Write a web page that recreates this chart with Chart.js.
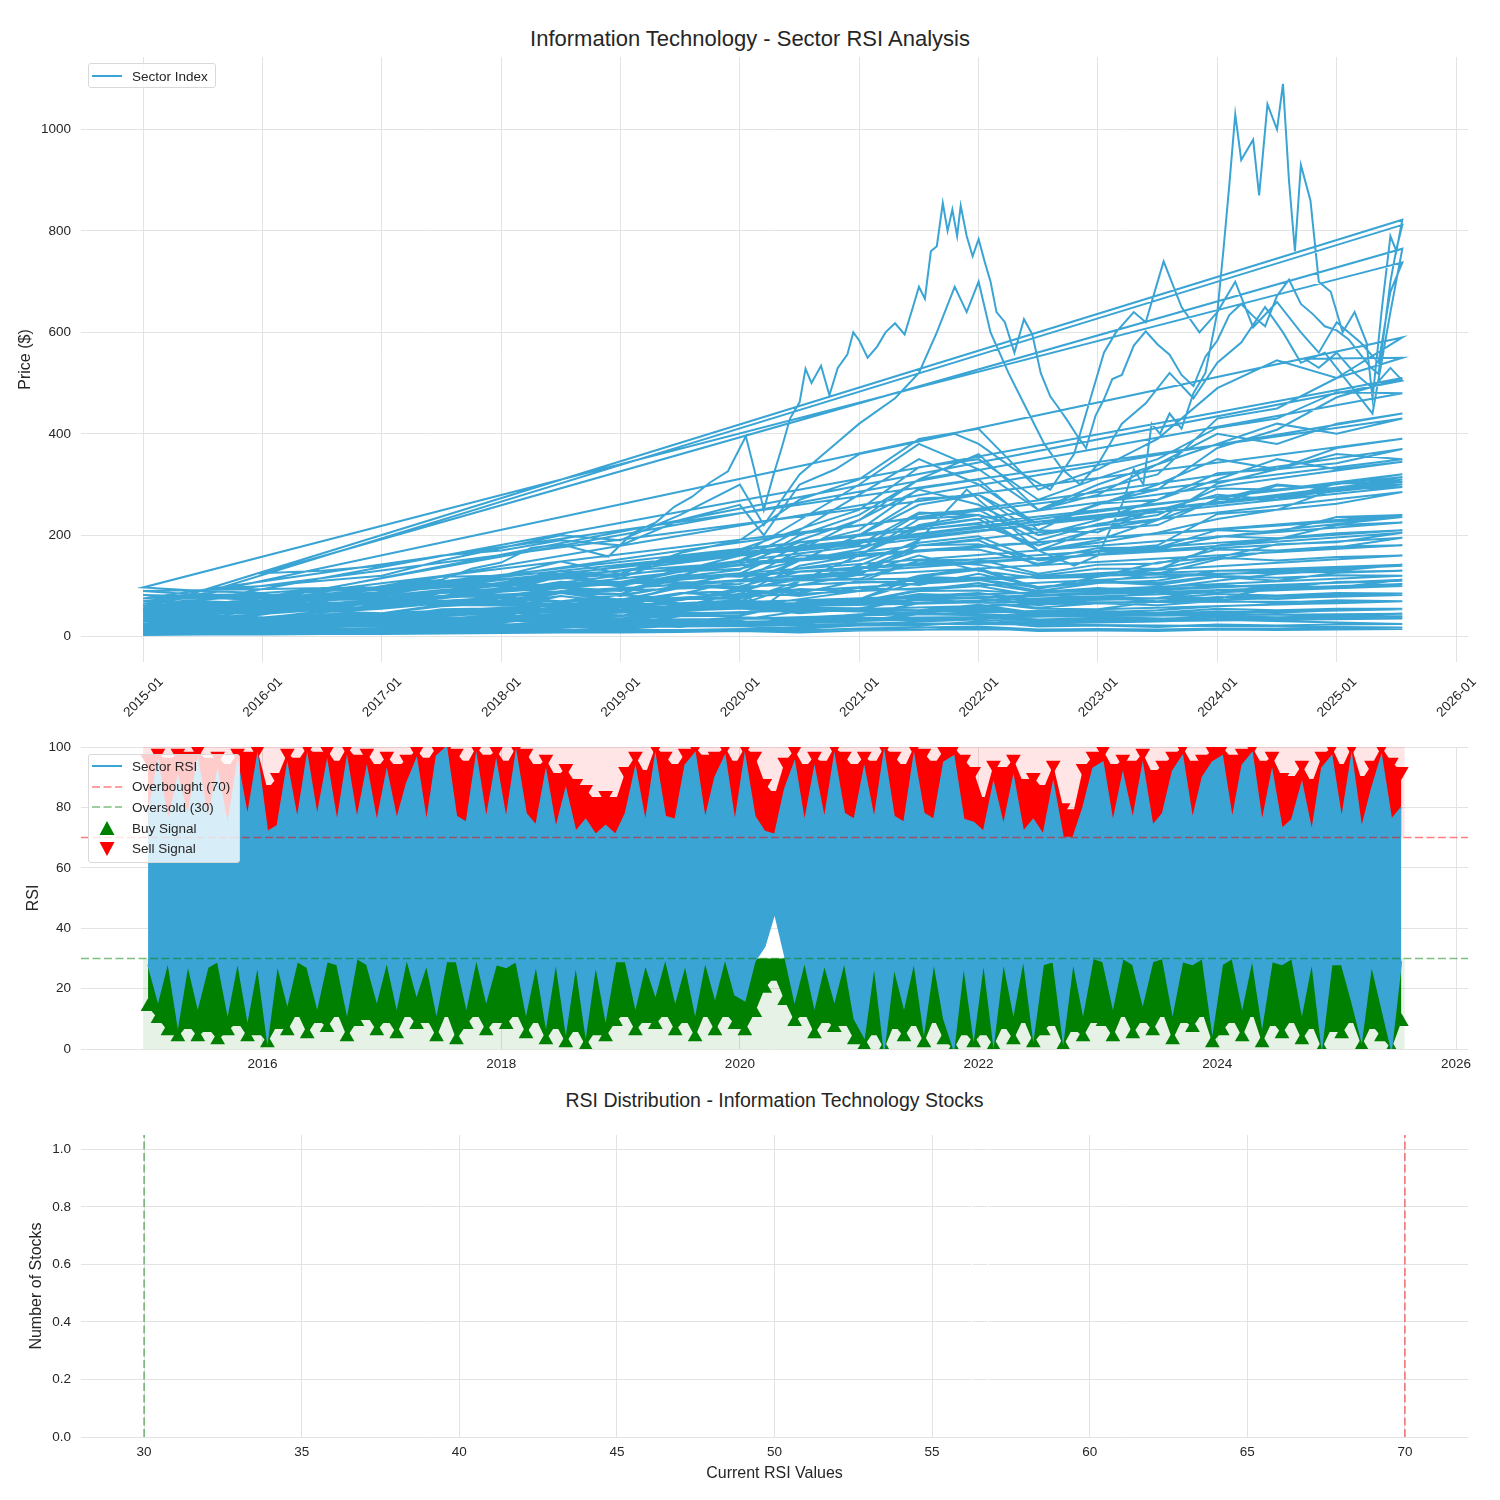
<!DOCTYPE html>
<html>
<head>
<meta charset="utf-8">
<script src="https://cdn.jsdelivr.net/npm/chart.js@4.4.1/dist/chart.umd.min.js"></script>
<style>
  html, body { margin: 0; padding: 0; background: #fff; }
  body { width: 1500px; height: 1500px; position: relative; overflow: hidden;
         font-family: "Liberation Sans", Arial, sans-serif; color: #262626; }
  canvas { position: absolute; left: 0; }
  .title { position: absolute; text-align: center; white-space: nowrap; }
  .legend { position: absolute; box-sizing: border-box; border: 1px solid #d9d9d9; border-radius: 3px;
            background: rgba(255,255,255,0.8); font-size: 13.5px; padding: 1px 0 0 3px; }
  .legend .row { display: flex; align-items: center; height: 20.6px; white-space: nowrap; }
  .legend svg { width: 30px; height: 20px; margin-right: 10px; flex: none; }
</style>
</head>
<body>
<div class="title" style="left:0;width:1500px;top:28px;font-size:22px;line-height:22px;">Information Technology - Sector RSI Analysis</div>
<canvas id="priceChart" width="1500" height="675" style="top:57px"></canvas>
<canvas id="rsiChart" width="1500" height="342" style="top:737px"></canvas>
<div class="title" style="left:81px;width:1387px;top:1090px;font-size:19.5px;line-height:20px;">RSI Distribution - Information Technology Stocks</div>
<canvas id="histChart" width="1500" height="362" style="top:1125px"></canvas>

<div class="legend" style="left:88px;top:63px;width:128px;height:25px;">
  <div class="row" style="height:22px"><svg><line x1="0" y1="10" x2="30" y2="10" stroke="#3aa4d4" stroke-width="2"/></svg>Sector Index</div>
</div>
<div class="legend" style="left:88px;top:754px;width:152px;height:109px;">
  <div class="row"><svg><line x1="0" y1="10" x2="30" y2="10" stroke="#3aa4d4" stroke-width="2"/></svg>Sector RSI</div>
  <div class="row"><svg><line x1="0" y1="10" x2="30" y2="10" stroke="rgba(255,0,0,0.5)" stroke-width="1.5" stroke-dasharray="8 3.5"/></svg>Overbought (70)</div>
  <div class="row"><svg><line x1="0" y1="10" x2="30" y2="10" stroke="rgba(0,128,0,0.5)" stroke-width="1.5" stroke-dasharray="8 3.5"/></svg>Oversold (30)</div>
  <div class="row"><svg><polygon points="15,3 7.5,17 22.5,17" fill="#008000"/></svg>Buy Signal</div>
  <div class="row"><svg><polygon points="7.5,3 22.5,3 15,17" fill="#ff0000"/></svg>Sell Signal</div>
</div>

<script>
const LINE_BLUE = '#3aa4d4';
const GRID = '#e3e3e3';
const TEXT = '#262626';

Chart.defaults.font.family = '"Liberation Sans", Arial, sans-serif';
Chart.defaults.font.size = 13.5;
Chart.defaults.color = TEXT;

// ---- top panel: every stock's price stacked into one series ----
const halfYears = [2015.0, 2015.5, 2016.0, 2016.5, 2017.0, 2017.5, 2018.0, 2018.5, 2019.0, 2019.5, 2020.0,
                   2020.5, 2021.0, 2021.5, 2022.0, 2022.5, 2023.0, 2023.5, 2024.0, 2024.5, 2025.0, 2025.55];
const priceYearTicks = [2015, 2016, 2017, 2018, 2019, 2020, 2021, 2022, 2023, 2024, 2025, 2026];
const priceTicks = [0, 200, 400, 600, 800, 1000];

// big movers, as (decimal year, price)
const stockC = [[2015.0,18],[2015.5,22],[2016.0,20],[2016.5,28],[2017.0,35],[2017.5,42],[2018.0,55],[2018.5,62],
  [2019.0,48],[2019.5,60],[2020.0,85],[2020.2,60],[2020.5,110],[2021.0,140],[2021.5,190],[2021.9,290],[2022.2,230],
  [2022.5,170],[2022.8,140],[2023.0,160],[2023.1,210],[2023.2,260],[2023.3,330],[2023.38,300],[2023.45,420],
  [2023.52,400],[2023.6,440],[2023.7,410],[2023.8,480],[2023.9,520],[2024.0,640],
  [2024.05,760],[2024.1,890],[2024.15,1030],[2024.2,940],[2024.3,980],[2024.35,870],[2024.42,1050],[2024.5,1000],
  [2024.55,1090],[2024.6,900],[2024.65,760],[2024.7,930],[2024.78,860],[2024.85,700],[2024.95,680],[2025.05,600],
  [2025.15,640],[2025.25,580],[2025.3,470],[2025.38,650],[2025.45,790],[2025.5,760],[2025.55,822]];
const stockA = [[2015.0,55],[2015.25,61],[2015.5,56],[2015.75,66],[2016.0,58],[2016.25,70],[2016.5,72],[2016.75,84],
  [2017.0,88],[2017.25,106],[2017.5,112],[2017.75,134],[2018.0,146],[2018.25,175],[2018.5,182],[2018.7,170],
  [2018.9,158],[2019.1,204],[2019.3,226],[2019.45,256],[2019.6,276],[2019.75,304],[2019.9,326],[2020.05,395],
  [2020.12,330],[2020.2,250],[2020.28,318],[2020.35,372],[2020.42,430],[2020.5,462],[2020.55,528],[2020.6,500],
  [2020.68,534],[2020.75,476],[2020.82,530],[2020.9,556],[2020.95,600],[2021.0,584],[2021.07,550],[2021.15,572],
  [2021.22,600],[2021.3,618],[2021.38,596],[2021.45,650],[2021.5,690],[2021.55,666],[2021.6,760],[2021.65,770],
  [2021.7,855],[2021.74,800],[2021.78,842],[2021.82,790],[2021.85,850],[2021.9,790],[2021.95,750],[2022.0,784],
  [2022.05,740],[2022.1,700],[2022.15,640],[2022.22,620],[2022.3,560],[2022.38,626],[2022.45,596],[2022.52,520],
  [2022.6,474],[2022.68,448],[2022.75,424],[2022.82,398],[2022.9,372],[2022.98,436],[2023.05,468],[2023.12,508],
  [2023.2,516],[2023.3,574],[2023.4,602],[2023.5,576],[2023.6,556],[2023.7,516],[2023.8,494],[2023.9,552],
  [2024.0,584],[2024.1,634],[2024.2,656],[2024.3,632],[2024.4,612],[2024.5,672],[2024.6,704],[2024.7,656],
  [2024.8,636],[2024.9,612],[2025.0,604],[2025.1,586],[2025.2,556],[2025.28,532],[2025.35,518],[2025.4,606],
  [2025.45,700],[2025.5,764],[2025.55,812]];
const stockB = [[2015.63,95],[2016.0,100],[2016.5,110],[2017.0,120],[2017.5,150],[2018.0,175],[2018.5,200],[2019.0,190],
  [2019.5,240],[2020.0,300],[2020.2,220],[2020.5,320],[2020.8,380],[2021.0,420],[2021.3,470],[2021.5,520],
  [2021.65,600],[2021.8,690],[2021.9,640],[2022.0,700],[2022.1,600],[2022.25,520],[2022.4,450],[2022.55,380],
  [2022.7,330],[2022.85,300],[2023.0,340],[2023.2,420],[2023.4,460],[2023.6,520],[2023.8,470],[2024.0,540],
  [2024.2,580],[2024.4,650],[2024.55,600],[2024.7,540],[2024.9,560],[2025.1,500],[2025.3,440],[2025.45,640],
  [2025.55,765]];
const stockD = [[2016.0,125],[2016.5,130],[2017.0,140],[2017.5,160],[2018.0,170],[2018.5,190],[2019.0,180],[2019.5,230],
  [2020.0,260],[2020.2,200],[2020.5,300],[2020.8,330],[2021.0,360],[2021.4,380],[2021.8,400],[2022.0,380],
  [2022.3,330],[2022.6,290],[2022.8,360],[2022.95,480],[2023.05,560],[2023.15,600],[2023.3,640],[2023.4,620],
  [2023.5,700],[2023.55,740],[2023.7,650],[2023.85,600],[2024.0,640],[2024.15,700],[2024.3,610],[2024.5,660],
  [2024.7,600],[2024.85,560],[2025.0,620],[2025.2,580],[2025.35,540],[2025.45,680],[2025.55,738]];
const stockLate = [[2024.73,548],[2024.85,530],[2025.0,560],[2025.15,520],[2025.3,490],[2025.45,530],[2025.55,505]];

// the rest, on the half-year dates
const m01 = [40, 48, 44, 58, 66, 80, 96, 118, 124, 165, 190, 270, 310, 390, 410, 290, 330, 390, 490, 545, 510, 590];
const m02 = [30, 36, 32, 44, 46, 60, 66, 90, 84, 118, 132, 200, 240, 310, 330, 250, 290, 320, 430, 450, 510, 550];
const m03 = [25, 31, 27, 38, 37, 54, 56, 80, 66, 102, 124, 180, 210, 292, 310, 210, 262, 290, 372, 408, 472, 510];
const m04 = [60, 70, 66, 80, 82, 100, 106, 130, 116, 158, 172, 212, 250, 334, 350, 270, 312, 350, 412, 430, 482, 480];
const m05 = [20, 25, 22, 33, 32, 46, 46, 66, 50, 76, 84, 140, 160, 232, 240, 170, 212, 230, 302, 330, 372, 390];
const m06 = [50, 57, 52, 68, 66, 86, 90, 118, 98, 134, 142, 186, 200, 272, 280, 220, 262, 270, 322, 330, 342, 370];
const m07 = [35, 42, 37, 50, 46, 63, 64, 86, 70, 97, 104, 150, 172, 242, 250, 190, 222, 240, 292, 290, 302, 320];
const m08 = [70, 77, 72, 86, 84, 102, 100, 122, 104, 128, 134, 160, 162, 212, 222, 180, 212, 220, 272, 270, 302, 305];
const m09 = [15, 19, 16, 26, 25, 38, 37, 53, 41, 60, 64, 102, 122, 180, 190, 140, 170, 180, 242, 250, 292, 300];
const m10 = [45, 51, 47, 60, 57, 71, 70, 88, 73, 96, 99, 128, 132, 180, 182, 152, 175, 176, 210, 206, 236, 240];
const m11 = [10, 13, 11, 17, 15, 23, 22, 34, 25, 40, 41, 66, 74, 118, 132, 94, 118, 132, 180, 192, 220, 225];
const m12 = [97, 90, 86, 94, 92, 104, 104, 120, 100, 122, 118, 128, 132, 170, 172, 144, 168, 172, 198, 194, 204, 210];
const m13 = [28, 33, 30, 40, 39, 53, 52, 67, 54, 74, 75, 102, 108, 150, 152, 124, 142, 144, 172, 170, 178, 180];
const m14 = [65, 60, 57, 68, 66, 80, 78, 96, 80, 101, 94, 112, 114, 150, 142, 120, 134, 134, 156, 150, 157, 160];
const m15 = [12, 15, 13, 21, 20, 29, 29, 42, 32, 47, 46, 68, 74, 108, 112, 90, 106, 110, 130, 130, 137, 140];
const m16 = [55, 58, 50, 59, 57, 68, 66, 80, 68, 86, 80, 94, 90, 118, 114, 96, 110, 106, 120, 116, 121, 120];
const m17 = [8, 10, 9, 14, 13, 20, 20, 29, 22, 34, 33, 50, 54, 76, 76, 62, 74, 76, 92, 92, 96, 100];
const m18 = [40, 42, 36, 43, 41, 49, 47, 59, 49, 62, 57, 67, 66, 84, 80, 69, 78, 75, 84, 81, 86, 85];
const m19 = [22, 25, 22, 28, 27, 35, 34, 43, 36, 48, 45, 57, 56, 73, 68, 57, 66, 62, 71, 67, 72, 70];
const m20 = [90, 82, 84, 72, 76, 66, 71, 62, 65, 56, 58, 46, 55, 52, 63, 46, 51, 47, 55, 52, 55, 55];
const m21 = [6, 8, 7, 10, 10, 14, 14, 20, 16, 22, 22, 31, 32, 44, 42, 34, 37, 35, 40, 38, 40, 40];
const m22 = [30, 26, 28, 24, 27, 22, 25, 21, 23, 20, 21, 16, 22, 22, 30, 20, 22, 19, 24, 22, 24, 25];
const m23 = [18, 16, 17, 14, 16, 13, 15, 12, 14, 11, 11, 8, 12, 13, 17, 11, 12, 11, 14, 13, 14, 15];
const m24 = [48, 54, 44, 56, 55, 66, 67, 70, 69, 86, 90, 118, 125, 160, 130, 115, 118, 146, 156, 182, 186, 205];
const m25 = [5, 7, 5, 8, 8, 12, 13, 19, 15, 22, 24, 38, 43, 66, 68, 55, 54, 70, 75, 97, 97, 112];
const m26 = [75, 84, 78, 96, 96, 118, 120, 148, 124, 160, 162, 170, 182, 245, 240, 210, 206, 252, 262, 298, 292, 315];
const m27 = [33, 37, 33, 41, 38, 47, 46, 56, 47, 59, 57, 66, 69, 90, 91, 84, 75, 88, 87, 101, 97, 104];
const m28 = [12, 10, 14, 11, 16, 13, 19, 17, 22, 19, 27, 24, 36, 33, 40, 30, 34, 31, 38, 34, 42, 45];
const m29 = [62, 56, 64, 58, 70, 63, 76, 70, 82, 74, 92, 86, 110, 102, 124, 98, 108, 102, 118, 110, 126, 130];
const m30 = [3, 4, 4, 5, 5, 6, 7, 8, 8, 9, 11, 12, 16, 18, 20, 14, 15, 14, 16, 15, 17, 18];
const m31 = [24, 28, 25, 30, 33, 38, 36, 44, 40, 52, 58, 74, 90, 120, 135, 96, 108, 124, 152, 170, 176, 195];
const m32 = [82, 76, 80, 72, 78, 70, 76, 68, 74, 66, 72, 64, 74, 80, 86, 72, 76, 70, 78, 74, 80, 82];
const m33 = [15, 18, 17, 21, 23, 27, 30, 36, 33, 42, 46, 60, 70, 92, 100, 80, 86, 96, 110, 124, 130, 142];
const m34 = [38, 34, 36, 32, 35, 31, 34, 30, 32, 29, 30, 26, 31, 34, 38, 30, 32, 30, 34, 32, 35, 36];
const m35 = [52, 60, 56, 68, 66, 78, 80, 96, 90, 112, 122, 150, 172, 215, 232, 170, 185, 205, 232, 250, 262, 285];
const m36 = [9, 11, 10, 13, 14, 17, 17, 21, 20, 25, 27, 34, 40, 52, 58, 46, 48, 52, 60, 64, 66, 70];
const m37 = [70, 66, 72, 64, 74, 68, 78, 70, 82, 72, 90, 80, 96, 92, 106, 88, 96, 90, 102, 96, 108, 110];
const m38 = [26, 24, 27, 25, 29, 27, 32, 29, 34, 31, 38, 35, 44, 48, 54, 42, 46, 44, 50, 47, 52, 54];
const m39 = [44, 50, 47, 56, 58, 68, 72, 86, 82, 100, 110, 135, 150, 185, 198, 150, 162, 175, 196, 210, 222, 236];
const m40 = [4, 5, 5, 6, 7, 8, 9, 11, 11, 13, 15, 19, 24, 30, 34, 26, 28, 30, 34, 36, 38, 40];
const m41 = [20, 24, 22, 30, 34, 44, 50, 66, 60, 84, 110, 170, 230, 310, 360, 250, 280, 340, 380, 420, 400, 430];
const m42 = [35, 40, 38, 48, 55, 68, 78, 98, 90, 120, 150, 210, 280, 350, 300, 220, 260, 300, 350, 330, 360, 350];
const m43 = [15, 18, 17, 24, 28, 36, 42, 56, 52, 72, 95, 150, 200, 260, 280, 200, 230, 270, 310, 350, 330, 345];
const m44 = [45, 50, 48, 60, 66, 80, 90, 108, 100, 130, 160, 230, 300, 380, 330, 250, 300, 340, 400, 380, 420, 440];
const m45 = [8, 10, 10, 14, 18, 24, 28, 38, 36, 50, 70, 110, 160, 220, 240, 170, 190, 230, 270, 300, 290, 310];
const m46 = [60, 66, 62, 74, 80, 92, 100, 116, 108, 130, 150, 190, 230, 290, 260, 200, 220, 250, 280, 270, 290, 295];

// order in which the stocks follow each other in the series
const stockOrder = [stockC, stockA, stockB, stockD, m12, m01, m04, m02, stockLate, m03, m06, m05, m08, m07, m09,
  m44, m41, m26, m10, m35, m11, m42, m24, m13, m39, m14, m43, m15, m31, m16, m45, m25, m17, m33, m46, m18, m27,
  m19, m29, m20, m21, m37, m22, m32, m23, m28, m38, m30, m34, m36, m40];

const pricePoints = [];
stockOrder.forEach(stock => {
  stock.forEach((p, i) => {
    if (Array.isArray(p)) pricePoints.push({ x: p[0], y: p[1] });
    else pricePoints.push({ x: halfYears[i], y: p });
  });
});

// ---- middle panel: monthly RSI envelope and signal extremes ----
const rsiHigh = [
  78, 95, 75, 90, 77, 96, 76, 92, 74, 95, 77, 97,
  72, 74, 94, 76, 97, 77, 95, 75, 96, 76, 93, 75,
  92, 76, 88, 96, 75, 97, 100, 77, 75, 97, 76, 95,
  76, 98, 78, 74, 92, 73, 86, 72, 76, 71, 74, 71,
  78, 93, 75, 97, 77, 76, 94, 98, 76, 90, 97, 75,
  97, 77, 72, 71, 86, 95, 75, 93, 76, 97, 78, 76,
  93, 76, 98, 77, 75, 97, 78, 76, 95, 97, 76, 75,
  72, 88, 74, 90, 72, 76, 71, 88, 70, 70, 80, 93,
  95, 75, 91, 76, 94, 74, 78, 92, 97, 76, 90, 95,
  97, 76, 94, 98, 75, 92, 73, 76, 88, 72, 93, 97,
  76, 97, 73, 86, 97, 76, 80];
const rsiLow = [
  28, 16, 29, 8, 28, 14, 27, 29, 12, 29, 10, 28,
  3, 28, 15, 29, 27, 14, 29, 28, 12, 30, 28, 16,
  29, 14, 30, 18, 28, 12, 29, 29, 14, 30, 16, 28,
  27, 29, 12, 28, 8, 29, 6, 28, 5, 28, 10, 29,
  29, 14, 28, 18, 30, 16, 28, 12, 29, 17, 30, 18,
  16, 29, 34, 45, 31, 16, 29, 14, 28, 16, 29, 10,
  4, 28, 0, 27, 14, 29, 6, 29, 10, 0, 28, 4,
  29, 2, 29, 12, 30, 4, 28, 29, 3, 29, 12, 30,
  29, 14, 30, 28, 15, 29, 30, 12, 29, 28, 30, 6,
  28, 30, 14, 30, 8, 29, 28, 30, 12, 29, 1, 28,
  28, 16, 3, 28, 14, 0, 29];
const sellTop = [
  96, 98, 95, 98, 97, 99, 95, 97, 93, 98, 97, 99,
  86, 90, 98, 95, 100, 97, 99, 94, 100, 96, 98, 93,
  97, 93, 96, 99, 95, 100, 100, 98, 94, 100, 96, 99,
  94, 100, 98, 93, 96, 90, 93, 88, 86, 82, 84, 82,
  92, 97, 91, 100, 97, 93, 98, 100, 96, 97, 100, 94,
  100, 97, 88, 84, 95, 99, 93, 97, 94, 100, 97, 93,
  97, 94, 100, 97, 93, 100, 98, 94, 99, 100, 96, 92,
  82, 94, 92, 96, 88, 90, 86, 94, 80, 78, 93, 97,
  99, 93, 96, 94, 98, 91, 94, 97, 100, 94, 96, 99,
  100, 96, 98, 100, 94, 97, 90, 89, 94, 88, 97, 100,
  93, 100, 89, 94, 100, 95, 92];
const buyLow = [
  14, 10, 6, 4, 8, 4, 7, 3, 6, 9, 4, 6,
  2, 8, 6, 12, 5, 10, 7, 12, 4, 9, 11, 6,
  10, 5, 12, 8, 10, 4, 12, 3, 8, 12, 6, 10,
  8, 12, 5, 10, 3, 8, 2, 7, 1, 6, 4, 9,
  12, 6, 10, 8, 12, 6, 10, 4, 12, 6, 12, 8,
  6, 12, 20, 24, 16, 9, 12, 5, 10, 7, 9, 3,
  1, 6, 0, 8, 4, 9, 2, 10, 3, 0, 6, 2,
  6, 1, 8, 3, 10, 2, 6, 9, 1, 7, 4, 10,
  9, 4, 12, 5, 10, 6, 12, 3, 10, 7, 12, 2,
  6, 10, 4, 12, 2, 9, 5, 10, 3, 8, 0, 7,
  5, 10, 1, 8, 4, 0, 9];
const rsiYearTicks = [2016, 2018, 2020, 2022, 2024, 2026];
const rsiTicks = [0, 20, 40, 60, 80, 100];
const overbought = 70;
const oversold = 30;
const zoneSpan = [2015.0, 2025.57];

// month mid-points Jan 2015 .. Jul 2025 (time axis)
const rsiMonths = [];
for (let y = 2015; y <= 2025; y++) {
  for (let m = 0; m < 12; m++) {
    if (y === 2025 && m > 6) break;
    rsiMonths.push(y + (m + 0.5) / 12);
  }
}
const toPts = arr => arr.map((v, i) => ({ x: rsiMonths[i], y: v }));

// ---- bottom panel: histogram of current RSI ----
const histEdges = [56.27, 56.78];
const histCounts = [1];
const histXTicks = [30, 35, 40, 45, 50, 55, 60, 65, 70];
const histYTicks = [0, 0.2, 0.4, 0.6, 0.8, 1.0];

const X_MIN = 2014.48, X_MAX = 2026.1;

function yAxisFit(s) { s.width = 81; s.paddingTop = 0; s.paddingBottom = 0; }

const baseGrid = { color: GRID, drawTicks: false, lineWidth: 1 };

new Chart(document.getElementById('priceChart'), {
  type: 'line',
  data: {
    datasets: [{
      data: pricePoints,
      borderColor: LINE_BLUE,
      borderWidth: 2,
      pointRadius: 0,
      tension: 0,
      fill: false
    }]
  },
  options: {
    responsive: false,
    animation: false,
    layout: { padding: { left: 0, right: 32, top: 0, bottom: 0 } },
    plugins: { legend: { display: false }, tooltip: { enabled: false } },
    scales: {
      x: {
        type: 'linear', min: X_MIN, max: X_MAX,
        afterBuildTicks: s => { s.ticks = priceYearTicks.map(v => ({ value: v })); },
        afterFit: s => { s.height = 70; s.paddingLeft = 0; s.paddingRight = 0; },
        grid: baseGrid,
        border: { display: false },
        ticks: { callback: v => v + '-01', minRotation: 45, maxRotation: 45, autoSkip: false, padding: 12, labelOffset: 18 }
      },
      y: {
        min: -50, max: 1143,
        afterBuildTicks: s => { s.ticks = priceTicks.map(v => ({ value: v })); },
        afterFit: yAxisFit,
        grid: baseGrid,
        border: { display: false },
        ticks: { padding: 10, callback: v => String(v) },
        title: { display: true, text: 'Price ($)', font: { size: 16 }, padding: { top: 16, bottom: 0 } }
      }
    }
  }
});

const flat = (x0, x1, y) => [{ x: x0, y: y }, { x: x1, y: y }];

new Chart(document.getElementById('rsiChart'), {
  type: 'line',
  data: {
    datasets: [
      { data: flat(X_MIN, X_MAX, overbought), borderColor: 'rgba(255,0,0,0.5)', borderWidth: 1.5, borderDash: [8, 3.5], pointRadius: 0, fill: false },
      { data: flat(X_MIN, X_MAX, oversold), borderColor: 'rgba(0,128,0,0.5)', borderWidth: 1.5, borderDash: [8, 3.5], pointRadius: 0, fill: false },
      { data: toPts(rsiHigh), borderColor: LINE_BLUE, backgroundColor: LINE_BLUE, borderWidth: 1.5, pointRadius: 0, fill: '+1' },
      { data: toPts(rsiLow), borderColor: LINE_BLUE, borderWidth: 1.5, pointRadius: 0, fill: false },
      { data: toPts(buyLow), borderWidth: 0, borderColor: 'rgba(0,0,0,0)', backgroundColor: '#008000', fill: { value: oversold },
        pointStyle: 'triangle', pointRadius: 8.5, pointBackgroundColor: '#008000', pointBorderWidth: 0 },
      { data: toPts(sellTop), borderWidth: 0, borderColor: 'rgba(0,0,0,0)', backgroundColor: '#ff0000', fill: { value: overbought },
        pointStyle: 'triangle', pointRotation: 180, pointRadius: 8.5, pointBackgroundColor: '#ff0000', pointBorderWidth: 0 },
      { data: flat(zoneSpan[0], zoneSpan[1], 100), borderWidth: 0, borderColor: 'rgba(0,0,0,0)', backgroundColor: 'rgba(255,0,0,0.1)', pointRadius: 0, fill: { value: overbought } },
      { data: flat(zoneSpan[0], zoneSpan[1], oversold), borderWidth: 0, borderColor: 'rgba(0,0,0,0)', backgroundColor: 'rgba(0,128,0,0.1)', pointRadius: 0, fill: { value: 0 } }
    ]
  },
  options: {
    responsive: false,
    animation: false,
    layout: { padding: { left: 0, right: 32, top: 10, bottom: 0 } },
    plugins: { legend: { display: false }, tooltip: { enabled: false } },
    scales: {
      x: {
        type: 'linear', min: X_MIN, max: X_MAX,
        afterBuildTicks: s => { s.ticks = rsiYearTicks.map(v => ({ value: v })); },
        afterFit: s => { s.height = 30; s.paddingLeft = 0; s.paddingRight = 0; },
        grid: baseGrid,
        border: { display: false },
        ticks: { callback: v => String(v), maxRotation: 0, autoSkip: false, padding: 7 }
      },
      y: {
        min: 0, max: 100,
        afterBuildTicks: s => { s.ticks = rsiTicks.map(v => ({ value: v })); },
        afterFit: yAxisFit,
        grid: baseGrid,
        border: { display: false },
        ticks: { padding: 10 },
        title: { display: true, text: 'RSI', font: { size: 16 }, padding: { top: 24, bottom: 0 } }
      }
    }
  }
});

const vline = (x, y1) => [{ x: x, y: 0 }, { x: x, y: y1 }];

new Chart(document.getElementById('histChart'), {
  type: 'line',
  data: {
    datasets: [
      { data: vline(oversold, 1.05), borderColor: 'rgba(0,128,0,0.55)', borderWidth: 1.5, borderDash: [8, 3.5], pointRadius: 0, fill: false },
      { data: vline(overbought, 1.05), borderColor: 'rgba(255,0,0,0.55)', borderWidth: 1.5, borderDash: [8, 3.5], pointRadius: 0, fill: false },
      { data: vline(histEdges[0], histCounts[0]), borderColor: '#ffffff', borderWidth: 1.5, pointRadius: 0, fill: false },
      { data: vline(histEdges[1], histCounts[0]), borderColor: '#ffffff', borderWidth: 1.5, pointRadius: 0, fill: false }
    ]
  },
  options: {
    responsive: false,
    animation: false,
    layout: { padding: { left: 0, right: 32, top: 10, bottom: 0 } },
    plugins: { legend: { display: false }, tooltip: { enabled: false } },
    scales: {
      x: {
        type: 'linear', min: 28, max: 72,
        afterBuildTicks: s => { s.ticks = histXTicks.map(v => ({ value: v })); },
        afterFit: s => { s.height = 50; s.paddingLeft = 0; s.paddingRight = 0; },
        grid: baseGrid,
        border: { display: false },
        ticks: { callback: v => String(v), maxRotation: 0, autoSkip: false, padding: 7 },
        title: { display: true, text: 'Current RSI Values', font: { size: 16 }, padding: { top: 0, bottom: 4 } }
      },
      y: {
        min: 0, max: 1.05,
        afterBuildTicks: s => { s.ticks = histYTicks.map(v => ({ value: v })); },
        afterFit: yAxisFit,
        grid: baseGrid,
        border: { display: false },
        ticks: { padding: 10, callback: v => v.toFixed(1) },
        title: { display: true, text: 'Number of Stocks', font: { size: 16 }, padding: { top: 27, bottom: 0 } }
      }
    }
  }
});
</script>
</body>
</html>
